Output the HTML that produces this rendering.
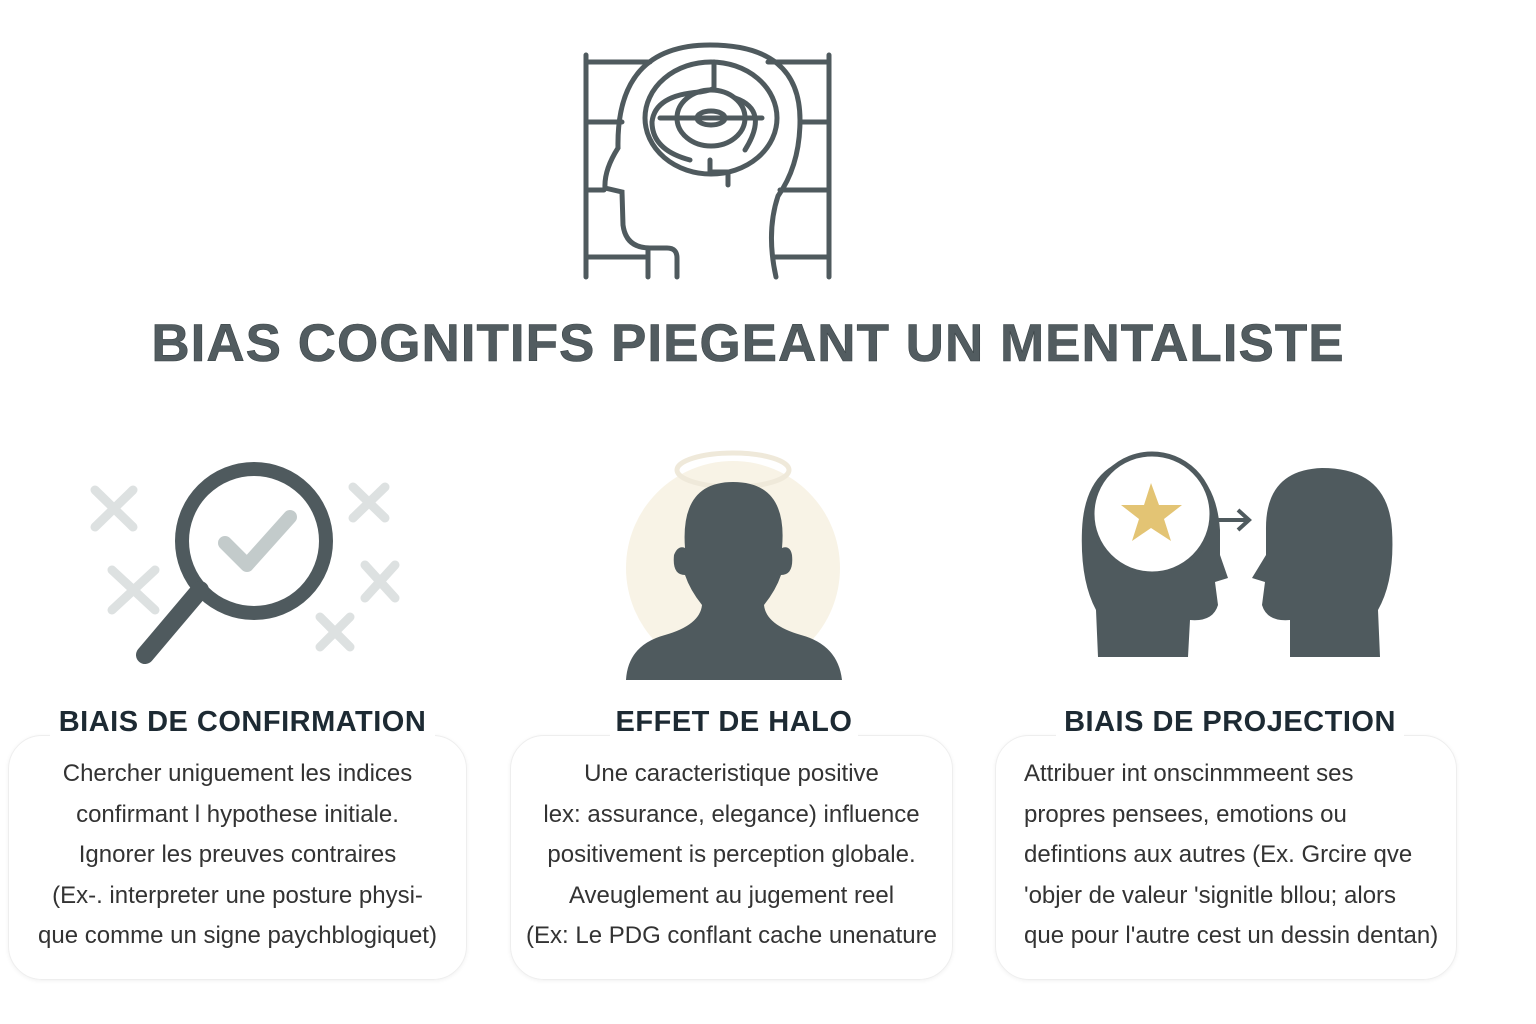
<!DOCTYPE html>
<html><head><meta charset="utf-8"><style>
body{margin:0;width:1536px;height:1024px;background:#fff;position:relative;overflow:hidden;font-family:"Liberation Sans",sans-serif}
.t{position:absolute;left:-20px;width:1536px;top:313px;text-align:center;font-size:53px;font-weight:bold;color:#525c60;letter-spacing:1px;-webkit-text-stroke:0.6px #3a4346}
.h{position:absolute;font-size:29px;font-weight:bold;color:#1d2a33;text-align:center;letter-spacing:0.5px}
.c{position:absolute;border:1px solid #eee;border-radius:34px;box-shadow:0 1px 4px rgba(0,0,0,0.06);font-size:24px;color:#333;line-height:40.5px;padding-top:18px;box-sizing:border-box;text-align:center}
</style></head><body>
<svg width="1536" height="1024" style="position:absolute;left:0;top:0">
<g fill="none" stroke="#4f5a5e" stroke-width="5" stroke-linecap="round">
<path d="M586,55V277M829,55V277M588,62H650M768,62H829M588,122H622M800,122H829M588,190H604M780,190H829M588,257H647M774,257H829"/>
<path d="M677,277V258Q677,248 667,248H650Q626,248 623,225L622,192L605,188Q604,170 618,148Q616,45 710,45Q800,45 800,120Q800,165 778,196Q766,232 776,277M648,277V250"/>
<ellipse cx="711" cy="118" rx="66" ry="56"/>
<path d="M660,118H762M714,62V88Q712,90 700,92Q655,95 652,122Q652,150 690,160M735,98Q770,110 745,150M710,160V172H728V185"/>
<ellipse cx="711" cy="118" rx="34" ry="28"/>
<ellipse cx="711" cy="118" rx="14" ry="7"/>
</g>
<g stroke="#dde1e1" stroke-width="9" stroke-linecap="round">
<path d="M95,490L133,527M133,490L95,527M353,487L385,518M385,487L353,518M112,570L155,610M155,570L112,610M365,565L395,598M395,565L365,598M320,617L350,647M350,617L320,647"/>
</g>
<circle cx="254" cy="541" r="72" fill="none" stroke="#4f5a5e" stroke-width="14"/>
<path d="M200,590L145,655" stroke="#4f5a5e" stroke-width="18" stroke-linecap="round"/>
<path d="M225,543L247,565L290,517" fill="none" stroke="#c3cbcb" stroke-width="14" stroke-linecap="round" stroke-linejoin="round"/>
<circle cx="733" cy="568" r="107" fill="#f8f3e6"/>
<ellipse cx="733" cy="470" rx="56" ry="17" fill="none" stroke="#efe9da" stroke-width="5"/>
<path d="M626,680Q628,645 665,635Q700,625 702,605Q690,590 685,575Q672,575 674,555Q678,545 685,548Q680,482 733,482Q788,482 782,548Q790,545 792,555Q794,575 781,575Q776,590 764,605Q766,625 801,635Q838,645 842,680Z" fill="#4f5a5e"/>
<path d="M1098,657L1096,610Q1080,580 1082,530Q1085,458 1150,456Q1215,458 1220,530L1220,555L1228,578L1215,582L1218,605Q1213,622 1190,620L1188,657Z" fill="#4f5a5e"/>
<circle cx="1152" cy="514" r="60" fill="#fff" stroke="#4f5a5e" stroke-width="5"/>
<polygon points="1151,483 1159,505 1182,505 1164,519 1171,541 1151,528 1132,541 1139,519 1121,505 1144,505" fill="#e3c474"/>
<path d="M1213,520H1248M1238,510L1249,520L1238,530" fill="none" stroke="#4f5a5e" stroke-width="4"/>
<path d="M1380,657L1378,610Q1395,580 1392,530Q1388,468 1322,468Q1265,470 1266,530L1266,555L1252,578L1265,582L1262,605Q1267,622 1290,620L1290,657Z" fill="#4f5a5e"/>
</svg>
<div class="t">BIAS COGNITIFS PIEGEANT UN MENTALISTE</div>
<div class="c" style="left:8px;top:735px;width:459px;height:245px">Chercher uniguement les indices<br>confirmant l hypothese initiale.<br>Ignorer les preuves contraires<br>(Ex-. interpreter une posture physi-<br>que comme un signe paychblogiquet)</div>
<div class="c" style="left:510px;top:735px;width:443px;height:245px">Une caracteristique positive<br>lex: assurance, elegance) influence<br>positivement is perception globale.<br>Aveuglement au jugement reel<br>(Ex: Le PDG conflant cache unenature</div>
<div class="c" style="left:995px;top:735px;width:462px;height:245px;text-align:left;padding-left:28px">Attribuer int onscinmmeent ses<br>propres pensees, emotions ou<br>defintions aux autres (Ex. Grcire qve<br>'objer de valeur 'signitle bllou; alors<br>que pour l'autre cest un dessin dentan)</div>
<div class="h" style="left:50px;top:706px;width:385px;background:#fff">BIAIS DE CONFIRMATION</div>
<div class="h" style="left:610px;top:706px;width:248px;background:#fff">EFFET DE HALO</div>
<div class="h" style="left:1056px;top:706px;width:348px;background:#fff">BIAIS DE PROJECTION</div>
</body></html>
